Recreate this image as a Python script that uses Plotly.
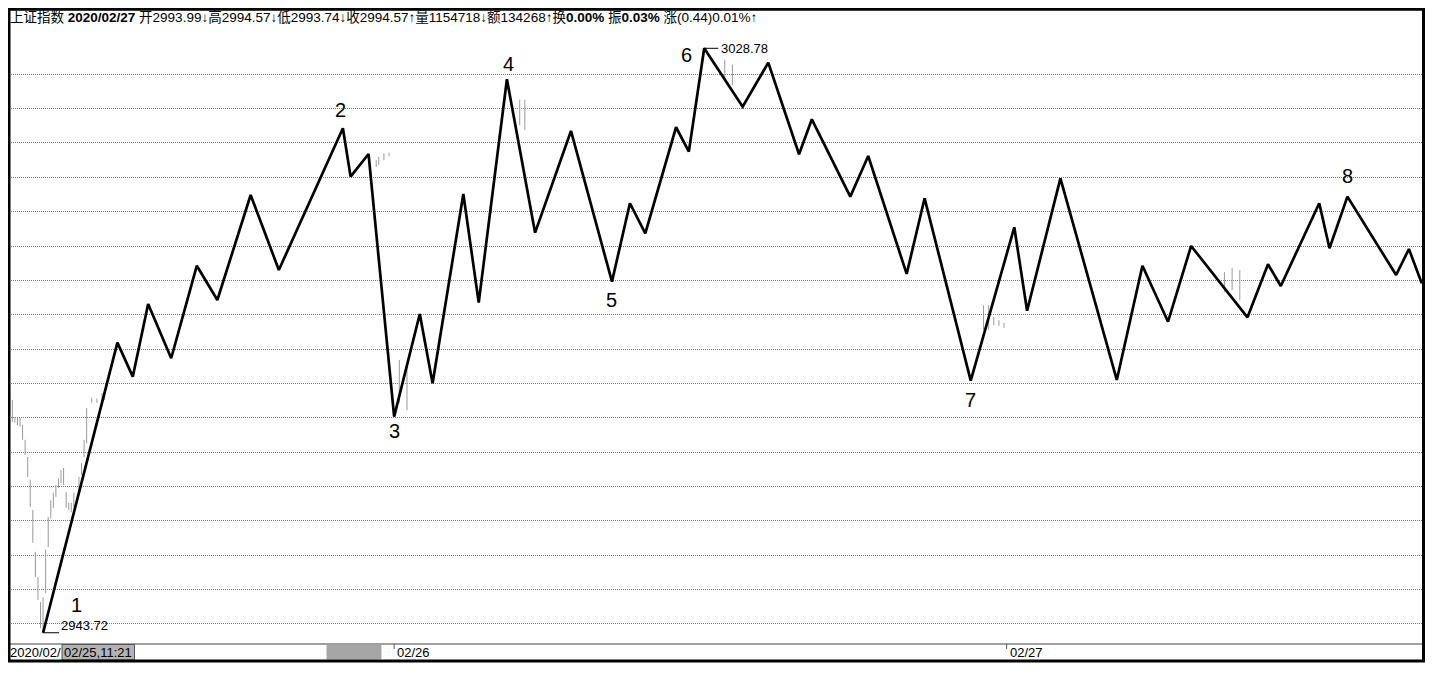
import plotly.graph_objects as go

OFF = 8  # page body margin
W, H = 1430, 670
ML, MR, MT, MB = 1, 16, 1, 35

# ---------------- data ----------------
# zigzag (wave) vertices: minute index and price
wave_idx = [13, 42, 48, 54, 63, 73, 81, 94, 105, 130, 133, 140, 150, 160, 165, 177, 183,
            194, 205, 219, 235, 242, 248, 260, 265, 271, 286, 296, 308, 313, 328, 335,
            350, 357, 375, 392, 397, 410, 432, 442, 452, 461, 483, 491, 496, 511, 515,
            522, 541, 546, 551]
wave_price = [2943.72, 2985.94, 2980.99, 2991.57, 2983.67, 2997.14, 2992.15, 3007.43,
              2996.52, 3017.14, 3010.10, 3013.40, 2975.17, 2990.11, 2980.03, 3007.58,
              2991.76, 3024.27, 3001.95, 3016.75, 2994.82, 3006.23, 3001.86, 3017.29,
              3013.74, 3028.78, 3020.28, 3026.69, 3013.36, 3018.45, 3007.19, 3013.11,
              2995.94, 3006.95, 2980.41, 3002.73, 2990.59, 3009.86, 2980.51, 2997.14,
              2988.99, 3000.01, 2989.63, 2997.35, 2994.19, 3006.23, 2999.68, 3007.19,
              2995.79, 2999.57, 2994.57]

# wave labels: which vertex, text
label_vertex = [0, 9, 12, 17, 20, 25, 34, 47]
label_text = ["1", "2", "3", "4", "5", "6", "7", "8"]

# faint minute bars (index, high, low)
bar_idx = [0, 1, 2, 3, 4, 5, 6, 7, 8, 9, 10, 11, 12, 13, 14, 15, 16, 17, 18, 19, 20, 21,
           22, 23, 24, 25, 27, 28, 29, 30, 32, 34, 36, 37,
           143, 144, 146, 148, 152, 155, 188, 199, 201, 279, 282,
           380, 382, 384, 386, 388, 474, 477, 480]
bar_high = [2979.8, 2977.6, 2975.1, 2975.0, 2975.0, 2974.0, 2971.8, 2969.3, 2966.0, 2961.6,
            2955.5, 2951.8, 2948.2, 2948.9, 2955.8, 2960.6, 2963.0, 2964.1, 2965.2, 2966.2,
            2967.4, 2967.7, 2964.2, 2962.6, 2962.6, 2964.1, 2966.4, 2968.4, 2971.8, 2976.4,
            2977.9, 2977.8, 2978.6, 2978.6,
            3012.5, 3013.0, 3013.5, 3013.6, 2983.4, 2982.7, 3007.1, 3021.3, 3021.3,
            3027.1, 3026.4, 2991.4, 2991.4, 2989.7, 2989.2, 2988.8, 2996.2, 2996.8, 2996.5]
bar_low = [2976.1, 2974.4, 2974.3, 2973.9, 2973.7, 2971.8, 2969.6, 2966.4, 2962.0, 2956.8,
           2951.8, 2948.5, 2944.4, 2943.72, 2949.5, 2956.2, 2960.4, 2961.9, 2963.5, 2964.8,
           2965.5, 2965.2, 2961.9, 2961.6, 2961.3, 2962.0, 2964.1, 2966.7, 2969.3, 2971.3,
           2977.2, 2977.2, 2977.3, 2977.6,
           3011.5, 3011.8, 3012.5, 3013.1, 2977.2, 2976.1, 3004.8, 3017.6, 3016.9,
           3024.2, 3023.4, 2987.8, 2987.8, 2988.5, 2988.4, 2988.1, 2993.3, 2993.6, 2992.1]

grid_levels = [2945 + 5 * k for k in range(17)]
day_ticks = [150, 389]
day_labels = ["02/26", "02/27"]

header = ("上证指数 <b>2020/02/27</b> 开2993.99↓高2994.57↓低2993.74↓收2994.57↑"
          "量1154718↓额134268↑换<b>0.00%</b> 振<b>0.03%</b> 涨(0.44)0.01%↑")

hi_price, lo_price = max(wave_price), min(wave_price)
hi_i = wave_idx[wave_price.index(hi_price)]
lo_i = wave_idx[wave_price.index(lo_price)]

# ---------------- helpers (page pixel -> paper) ----------------
PW, PH = W - ML - MR, H - MT - MB
def px(x):
    return (x - OFF - ML) / PW
def py(y):
    return (H - MB - (y - OFF)) / PH

FONT = "Liberation Sans, Arial, Noto Sans CJK SC, sans-serif"

fig = go.Figure()

# faint bars
bx, by = [], []
for i, h, l in zip(bar_idx, bar_high, bar_low):
    bx += [i, i, None]
    by += [h, l, None]
fig.add_trace(go.Scatter(x=bx, y=by, mode="lines",
                         line=dict(color="#9a9a9a", width=1), hoverinfo="skip",
                         showlegend=False))

# zigzag wave
fig.add_trace(go.Scatter(x=wave_idx, y=wave_price, mode="lines",
                         line=dict(color="#000000", width=2.7), showlegend=False))

annotations = []
offsets = {"1": (33, 28), "2": (-2, 18), "3": (0, -14), "4": (2, 15),
           "5": (0, -18), "6": (-18, -7), "7": (0, -19), "8": (0, 21)}
for v, t in zip(label_vertex, label_text):
    dx, dy = offsets[t]
    annotations.append(dict(x=wave_idx[v], y=wave_price[v], xref="x", yref="y",
                            text=t, showarrow=False, xshift=dx, yshift=dy,
                            font=dict(family=FONT, size=20, color="#000")))

# extreme price labels
annotations.append(dict(x=hi_i, y=hi_price, xref="x", yref="y", text=f"{hi_price:.2f}",
                        showarrow=False, xanchor="left", xshift=15, yshift=0,
                        font=dict(family=FONT, size=13, color="#000")))
annotations.append(dict(x=lo_i, y=lo_price, xref="x", yref="y", text=f"{lo_price:.2f}",
                        showarrow=False, xanchor="left", xshift=16, yshift=7,
                        font=dict(family=FONT, size=13, color="#000")))

# header
annotations.append(dict(x=px(8), y=py(17), xref="paper", yref="paper", text=header,
                        showarrow=False, xanchor="left", yanchor="middle",
                        font=dict(family=FONT, size=13.5, color="#000")))

# bottom strip texts
annotations.append(dict(x=px(8), y=py(652), xref="paper", yref="paper", text="2020/02/",
                        showarrow=False, xanchor="left", yanchor="middle",
                        font=dict(family=FONT, size=13, color="#000")))
annotations.append(dict(x=px(62), y=py(652), xref="paper", yref="paper", text="02/25,11:21",
                        showarrow=False, xanchor="left", yanchor="middle",
                        font=dict(family=FONT, size=13, color="#000")))
for d, lab in zip(day_ticks, day_labels):
    annotations.append(dict(x=d, y=py(652), xref="x", yref="paper", text=lab,
                            showarrow=False, xanchor="left", yanchor="middle", xshift=1,
                            font=dict(family=FONT, size=13, color="#000")))

shapes = []
# extreme marker ticks
shapes.append(dict(type="line", xref="x", yref="y", xsizemode="pixel", xanchor=hi_i,
                   x0=0, x1=14, y0=hi_price, y1=hi_price, line=dict(color="#000", width=1)))
shapes.append(dict(type="line", xref="x", yref="y", xsizemode="pixel", xanchor=lo_i,
                   x0=0, x1=16, y0=lo_price, y1=lo_price, line=dict(color="#000", width=1)))
# bottom strip
shapes.append(dict(type="line", xref="paper", yref="paper", x0=px(9), x1=px(1423),
                   y0=py(644), y1=py(644), line=dict(color="#808080", width=1.5)))
shapes.append(dict(type="rect", xref="paper", yref="paper", x0=px(62), x1=px(134.5),
                   y0=py(644.5), y1=py(660), fillcolor="#b3b3b3",
                   line=dict(color="#555555", width=1)))
shapes.append(dict(type="rect", xref="paper", yref="paper", x0=px(327), x1=px(381),
                   y0=py(645.5), y1=py(659), fillcolor="#a6a6a6",
                   line=dict(color="#a6a6a6", width=1)))
for d in day_ticks:
    shapes.append(dict(type="line", xref="x", yref="paper", x0=d, x1=d,
                       y0=py(644), y1=py(649), line=dict(color="#555", width=1)))
# frame
shapes.append(dict(type="rect", xref="paper", yref="paper", x0=px(9), x1=px(1423.5),
                   y0=py(661), y1=py(9.2), line=dict(color="#000", width=3),
                   fillcolor="rgba(0,0,0,0)"))

fig.update_layout(
    width=W, height=H,
    margin=dict(l=ML, r=MR, t=MT, b=MB, pad=0),
    paper_bgcolor="white", plot_bgcolor="white",
    showlegend=False,
    xaxis=dict(range=[-0.3, 551.1], showgrid=False, zeroline=False, showticklabels=False,
               ticks="", showline=False, fixedrange=True),
    yaxis=dict(range=[2942.23, 3034.5], tickvals=grid_levels, showgrid=True,
               gridcolor="#7a7a7a", griddash="1px,1px", gridwidth=1, zeroline=False,
               showticklabels=False, ticks="", showline=False, fixedrange=True),
    annotations=annotations, shapes=shapes,
)

fig.write_html("out.html")
